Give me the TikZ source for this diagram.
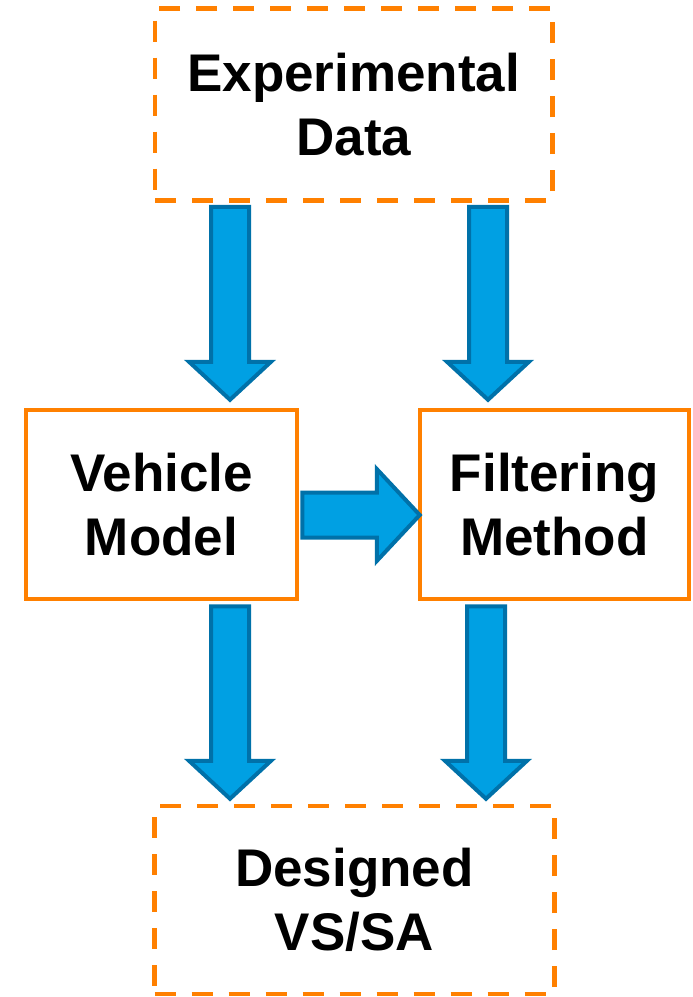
\documentclass[tikz,border=0pt]{standalone}
\usepackage{fontspec}
\setmainfont{Liberation Sans}
\usetikzlibrary{calc}
\definecolor{boxorange}{HTML}{FF8000}
\definecolor{arrowfill}{HTML}{00A0E3}
\definecolor{arrowline}{HTML}{0071A9}

% fat arrow between two points: from, to, half shaft, half head, head length
\newcommand\blockarrow[5]{%
  \coordinate (ba-s) at #1;
  \coordinate (ba-t) at #2;
  \coordinate (ba-h) at ($(ba-t)!#5pt!(ba-s)$);
  \draw[blockarrow] ($(ba-s)!#3pt!90:(ba-t)$) -- ($(ba-h)!#3pt!90:(ba-t)$) -- ($(ba-h)!#4pt!90:(ba-t)$) -- (ba-t)
    -- ($(ba-h)!#4pt!-90:(ba-t)$) -- ($(ba-h)!#3pt!-90:(ba-t)$) -- ($(ba-s)!#3pt!-90:(ba-t)$) -- cycle;
}

\begin{document}
\begin{tikzpicture}[x=1pt,y=-1pt,
  font=\bfseries\fontsize{53}{64}\selectfont,
  box/.style={draw=boxorange,line width=4.5pt,align=center,inner sep=0pt},
  dashbox/.style={box,dash pattern=on 21pt off 16pt},
  blockarrow/.style={draw=arrowline,fill=arrowfill,line width=4pt}]
  \useasboundingbox (0,0) rectangle (693,997);

  \node[dashbox,minimum width=397.5pt,minimum height=192pt] (exp) at (353.75,104.5) {Experimental\\Data};
  \node[box,minimum width=271pt,minimum height=189pt] (veh) at (161.5,504.5) {Vehicle\\Model};
  \node[box,minimum width=269pt,minimum height=189pt] (filt) at (554.5,504.5) {Filtering\\Method};
  \node[dashbox,minimum width=400pt,minimum height=188pt] (des) at (354.5,900) {Designed\\VS/SA};

  \blockarrow{($(exp.south -| veh.north)+(68.5,4)$)}{($(veh.north)+(68.5,-8)$)}{19}{41}{38}
  \blockarrow{($(exp.south -| filt.north)+(-66.5,4)$)}{($(filt.north)+(-66.5,-8)$)}{19}{41}{38}
  \blockarrow{($(veh.east)+(3,10.5)$)}{($(filt.west)+(2,10.5)$)}{22.5}{46}{43}
  \blockarrow{($(veh.south)+(68.5,5)$)}{($(des.north -| veh.south)+(68.5,-5)$)}{19}{41}{38}
  \blockarrow{($(filt.south)+(-68.5,5)$)}{($(des.north -| filt.south)+(-68.5,-5)$)}{19}{41}{38}
\end{tikzpicture}
\end{document}
